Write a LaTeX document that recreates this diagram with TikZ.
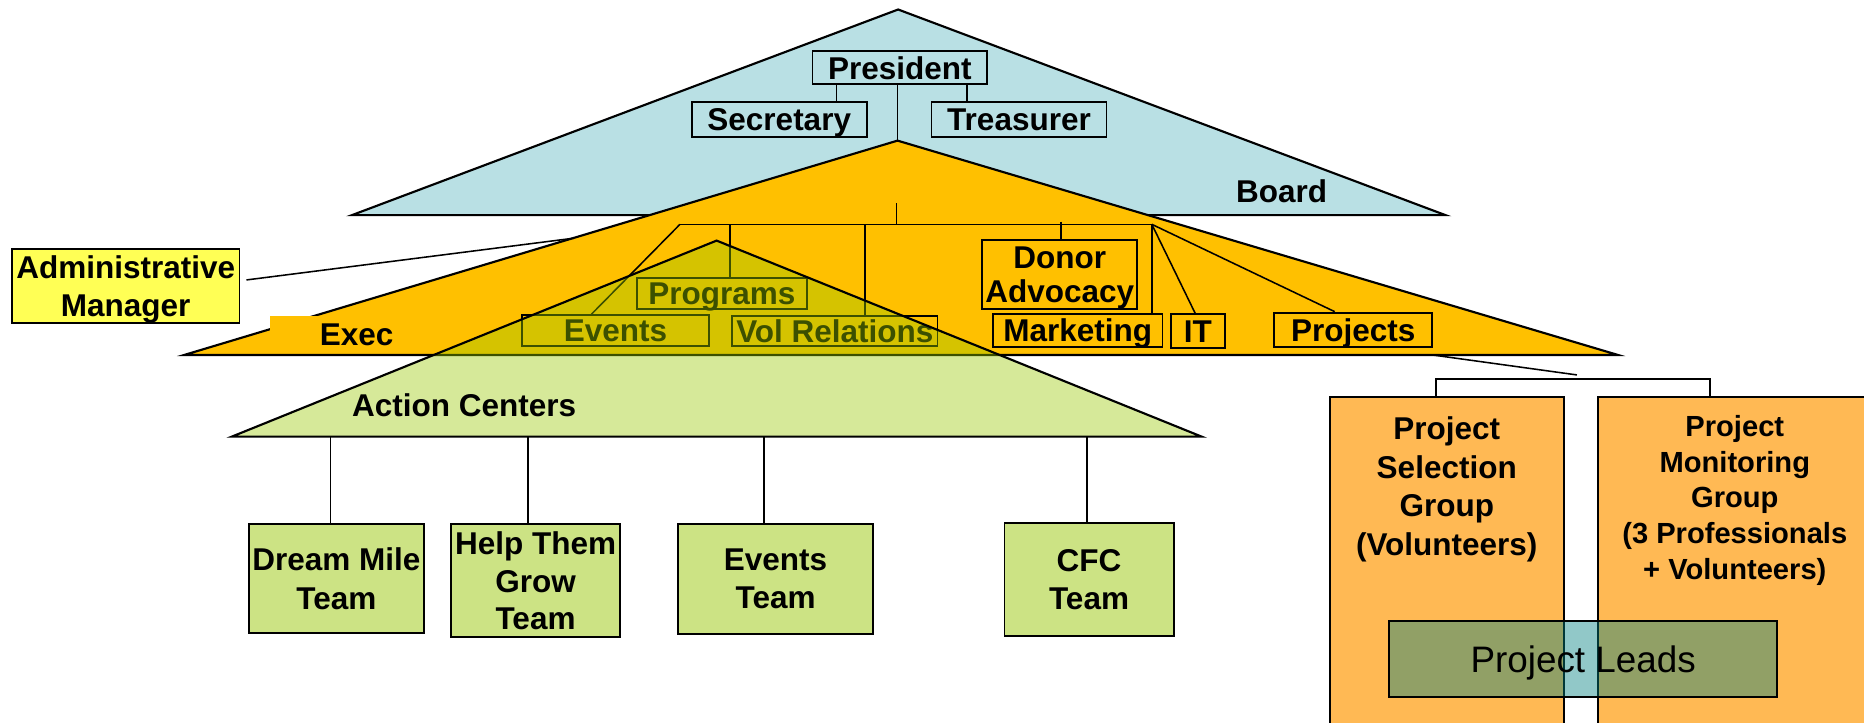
\documentclass[tikz,border=0pt]{standalone}
\usepackage{fontspec}
\setmainfont{Liberation Sans}
\definecolor{boardc}{HTML}{B9E0E4}
\definecolor{execc}{HTML}{FFC000}
\definecolor{acc}{HTML}{98C800}
\definecolor{teamc}{HTML}{CCE384}
\definecolor{adminc}{HTML}{FFFF55}
\definecolor{projc}{HTML}{FFB954}
\definecolor{leadc}{HTML}{008080}
\begin{document}
\begin{tikzpicture}[x=0.5pt,y=-0.5pt,
  tri/.style={draw=black,line width=0.9pt},
  box/.style={draw=black,line width=0.8pt,inner sep=0pt,align=center,text depth=0pt,font=\fontsize{13.25}{16}\selectfont\bfseries},
  lbl/.style={inner sep=0pt,text depth=0pt,font=\fontsize{13.25}{16}\selectfont\bfseries},
  conn/.style={draw=black,line width=0.65pt}]
\useasboundingbox (0,0) rectangle (1568,608);
\clip (0,0) rectangle (1568,608);
% ---------------- Board
\coordinate (bA) at (755.5,8);
\coordinate (bL) at (296,181);
\coordinate (bR) at (1216,181);
\path[tri,fill=boardc] (bA) -- (bR) -- (bL) -- cycle;
\node[lbl] (board) at (1078,161) {Board};
\node[box,minimum width=73.5pt,minimum height=14pt] (pres) at (757,57) {President};
\node[box,minimum width=73.5pt,minimum height=14.5pt] (sec) at (655.5,100.5) {Secretary};
\node[box,minimum width=73.6pt,minimum height=14.5pt] (treas) at (857.2,100.5) {Treasurer};
\draw[conn] (703.7,0 |- pres.south) -- (703.7,0 |- sec.north);
\draw[conn] (813.5,0 |- pres.south) -- (813.5,0 |- treas.north);
\coordinate (eA) at (755,118.3);
\draw[conn] (eA |- pres.south) -- (eA);
% ---------------- Exec
\coordinate (eL) at (155,298.6);
\coordinate (eR) at (1361,298.6);
\path[tri,fill=execc] (eA) -- (eR) -- (eL) -- cycle;
\node[fill=execc,inner sep=0pt,minimum width=64pt,minimum height=15.5pt] (execbox) at (291,281.5) {};
\node[lbl] (exec) at (300,281.5) {Exec};
\node[box,fill=adminc,minimum width=95.75pt,minimum height=30.85pt] (admin) at (105.75,240.5) {Administrative\\Manager};
\coordinate (adminEnd) at (482.5,200.4);
\draw[conn] (admin.east) ++(5,-5) -- (adminEnd);
\coordinate (busL) at (572,188.7);
\coordinate (busR) at (968.9,188.7);
\coordinate (busT) at (754,171);
\draw[conn] (busL) -- (busR);
\draw[conn] (busT) -- (busT |- busL);
\node[box,minimum width=71.75pt,minimum height=13.35pt] (prog) at (607.3,246.9) {Programs};
\node[box,minimum width=78.35pt,minimum height=12.85pt] (events) at (517.7,277.9) {Events};
\node[box,minimum width=86.3pt,minimum height=12.6pt] (vol) at (702.3,278.1) {Vol Relations};
\node[box,minimum width=65pt,minimum height=29.15pt,font=\fontsize{13.25}{14.65}\selectfont\bfseries] (donor) at (891.4,231) {Donor\\Advocacy};
\node[box,minimum width=71.3pt,minimum height=13.6pt] (mkt) at (906.6,278) {Marketing};
\node[box,minimum width=22.7pt,minimum height=14.3pt] (it) at (1007.6,278.7) {IT};
\node[box,minimum width=66.5pt,minimum height=14.3pt] (proj) at (1138.4,277.3) {Projects};
\draw[conn] (busL) -- (events.north -| 497.6,0);
\draw[conn] (614,0 |- busL) -- (614,0 |- prog.north);
\draw[conn] (727.5,0 |- busL) -- (727.5,0 |- vol.north);
\draw[conn] (892.4,186.4) -- (892.4,0 |- donor.north);
\draw[conn] (busR) -- (busR |- mkt.north);
\draw[conn] (busR) -- (1005.4,0 |- it.north);
\draw[conn] (busR) -- (1122.8,0 |- proj.north);
% ---------------- Action Centers
\coordinate (aA) at (602.8,202.4);
\coordinate (aL) at (195,367.3);
\coordinate (aR) at (1010.8,367.3);
\path[tri,fill=acc,fill opacity=0.4] (aA) -- (aR) -- (aL) -- cycle;
\node[lbl] (ac) at (390.5,341) {Action Centers};
\node[box,fill=teamc,minimum width=73.5pt,minimum height=46pt] (dream) at (283,486.7) {Dream Mile\\Team};
\node[box,fill=teamc,minimum width=71.35pt,minimum height=47.65pt,font=\fontsize{13.25}{15.75}\selectfont\bfseries] (help) at (450.5,488.4) {Help Them\\Grow\\Team};
\node[box,fill=teamc,minimum width=82pt,minimum height=46.25pt] (evteam) at (652.4,487) {Events\\Team};
\node[box,fill=teamc,minimum width=71.1pt,minimum height=47.7pt] (cfc) at (916.1,487.3) {CFC\\Team};
\coordinate (t1) at (277.9,367.3);
\coordinate (t2) at (444,367.3);
\coordinate (t3) at (642.6,367.3);
\coordinate (t4) at (914.2,367.3);
\draw[conn] (t1) -- (t1 |- dream.north);
\draw[conn] (t2) -- (t2 |- help.north);
\draw[conn] (t3) -- (t3 |- evteam.north);
\draw[conn] (t4) -- (t4 |- cfc.north);
% ---------------- Projects
\coordinate (pjA) at (1205,298.6);
\coordinate (pjB) at (1326.5,315.4);
\draw[conn] (pjA) -- (pjB);
\node[box,fill=projc,minimum width=98.35pt,minimum height=157.9pt] (psel) at (1217.35,492.1) {};
\node[box,fill=projc,minimum width=114.75pt,minimum height=157.9pt] (pmon) at (1459.25,492.1) {};
\coordinate (pb1) at (1207.8,319);
\coordinate (pb2) at (1438.4,319);
\draw[conn] (pb1 |- psel.north) -- (pb1) -- (pb2) -- (pb2 |- pmon.north);
\node[lbl,align=center,font=\fontsize{13.25}{16.2}\selectfont\bfseries] (pseltxt) at (1217,408.9) {Project\\Selection\\Group\\(Volunteers)};
\node[lbl,align=center,font=\fontsize{12.25}{15}\selectfont\bfseries] (pmontxt) at (1459.3,418.2) {Project\\Monitoring\\Group\\(3 Professionals\\+ Volunteers)};
\node[draw=black,line width=0.8pt,fill=leadc,fill opacity=0.43,text opacity=1,draw opacity=1,minimum width=163.35pt,minimum height=31.85pt,inner sep=0pt,text depth=0pt,font=\fontsize{15.5}{18}\selectfont] (leads) at (1331.75,554.2) {Project Leads};
\end{tikzpicture}
\end{document}
